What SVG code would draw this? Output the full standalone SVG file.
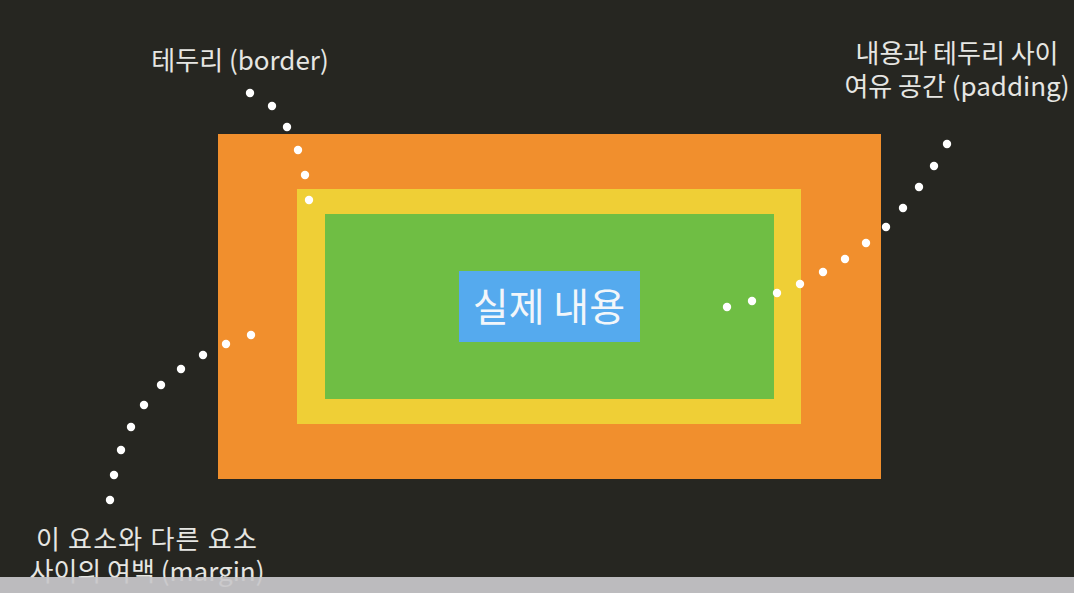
<svg xmlns="http://www.w3.org/2000/svg" width="1074" height="593" viewBox="0 0 1074 593">
  <style>
    .lbl { font-family: "Noto Sans CJK KR", "Noto Sans", sans-serif; fill: #e6e6e3; font-size: 26px; text-anchor: middle; }
    .dot { fill: #ffffff; }
  </style>
  <rect x="0" y="0" width="1074" height="593" fill="#262621"/>
  <g id="margin-box">
    <rect x="218" y="134" width="663" height="345" fill="#f18f2d"/>
  </g>
  <g id="border-box">
    <rect x="297" y="189" width="504" height="235" fill="#efcf36"/>
  </g>
  <g id="padding-box">
    <rect x="325" y="214" width="449" height="185" fill="#6fbe44"/>
  </g>
  <g id="content">
    <rect x="459" y="271" width="181" height="71" fill="#55aaee"/>
    <text x="549" y="321" class="lbl" style="font-size:39px;fill:#f2f6fa">실제 내용</text>
  </g>
  <g id="label-border">
    <text x="240" y="70" class="lbl">테두리 (border)</text>
  </g>
  <g id="label-padding">
    <text x="957" y="63" class="lbl">내용과 테두리 사이</text>
    <text x="957" y="96" class="lbl">여유 공간 (padding)</text>
  </g>
  <g id="label-margin">
    <text x="147" y="549" class="lbl" letter-spacing="1.2">이 요소와 다른 요소</text>
    <text x="147" y="581" class="lbl">사이의 여백 (margin)</text>
  </g>
  <g id="connectors">
    <g id="dots-border">
      <circle class="dot" cx="250" cy="93" r="4.2"/>
      <circle class="dot" cx="272" cy="106" r="4.2"/>
      <circle class="dot" cx="287" cy="127" r="4.2"/>
      <circle class="dot" cx="298" cy="150" r="4.2"/>
      <circle class="dot" cx="305" cy="175" r="4.2"/>
      <circle class="dot" cx="309" cy="200" r="4.2"/>
    </g>
    <g id="dots-padding">
      <circle class="dot" cx="947" cy="144" r="4.2"/>
      <circle class="dot" cx="934" cy="166" r="4.2"/>
      <circle class="dot" cx="919" cy="187" r="4.2"/>
      <circle class="dot" cx="903" cy="208" r="4.2"/>
      <circle class="dot" cx="886" cy="227" r="4.2"/>
      <circle class="dot" cx="866" cy="243" r="4.2"/>
      <circle class="dot" cx="845" cy="259" r="4.2"/>
      <circle class="dot" cx="823" cy="272" r="4.2"/>
      <circle class="dot" cx="800" cy="284" r="4.2"/>
      <circle class="dot" cx="777" cy="293" r="4.2"/>
      <circle class="dot" cx="752" cy="301" r="4.2"/>
      <circle class="dot" cx="727" cy="307" r="4.2"/>
    </g>
    <g id="dots-margin">
      <circle class="dot" cx="251" cy="335" r="4.2"/>
      <circle class="dot" cx="226" cy="344" r="4.2"/>
      <circle class="dot" cx="203" cy="355" r="4.2"/>
      <circle class="dot" cx="181" cy="369" r="4.2"/>
      <circle class="dot" cx="161" cy="385" r="4.2"/>
      <circle class="dot" cx="144" cy="405" r="4.2"/>
      <circle class="dot" cx="131" cy="427" r="4.2"/>
      <circle class="dot" cx="121" cy="450" r="4.2"/>
      <circle class="dot" cx="114" cy="475" r="4.2"/>
      <circle class="dot" cx="110" cy="500" r="4.2"/>
    </g>
  </g>
  <rect x="0" y="577" width="1074" height="16" fill="#c8c7ca" fill-opacity="0.93"/>
</svg>
